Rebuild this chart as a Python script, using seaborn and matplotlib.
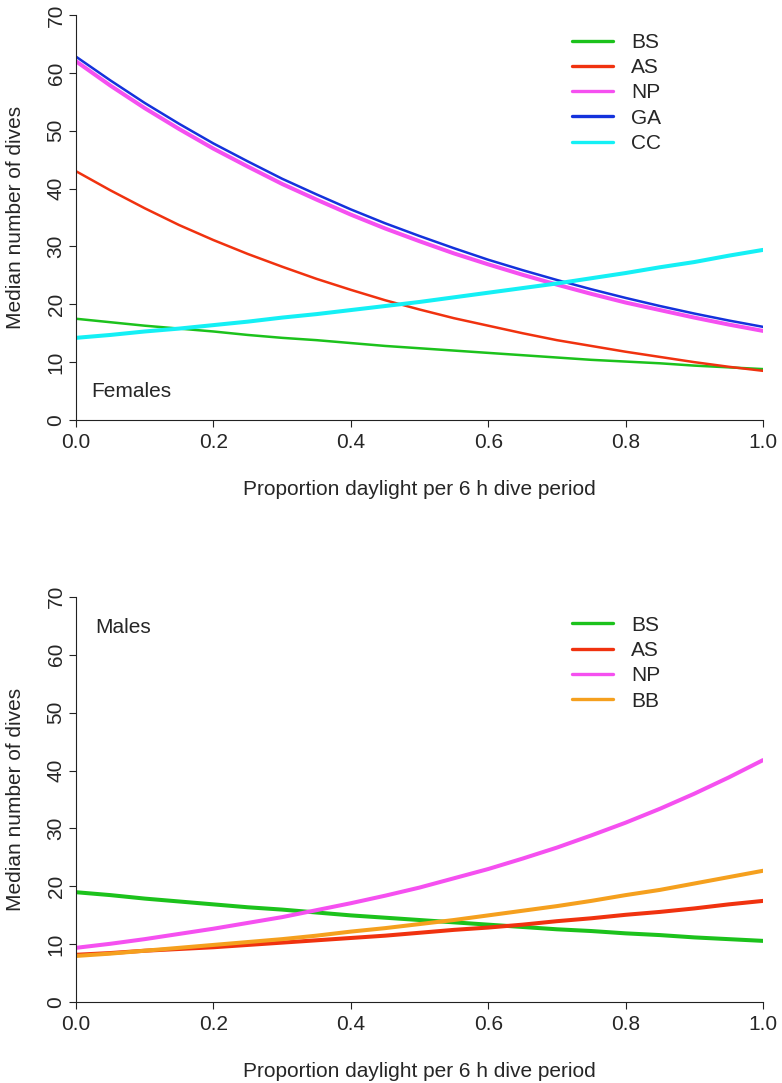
import numpy as np
import pandas as pd
import matplotlib
matplotlib.use("Agg")
import matplotlib.pyplot as plt
import seaborn as sns

# ---- data ----
daylight = [0.00, 0.05, 0.10, 0.15, 0.20, 0.25, 0.30, 0.35, 0.40, 0.45, 0.50,
            0.55, 0.60, 0.65, 0.70, 0.75, 0.80, 0.85, 0.90, 0.95, 1.00]

fem_groups = ["BS", "AS", "NP", "GA", "CC"]
fem_BS = [17.5, 16.9, 16.3, 15.8, 15.3, 14.7, 14.2, 13.8, 13.3, 12.8, 12.4,
          12.0, 11.6, 11.2, 10.8, 10.4, 10.1, 9.8, 9.4, 9.1, 8.8]
fem_AS = [43.0, 39.7, 36.6, 33.7, 31.1, 28.7, 26.5, 24.4, 22.5, 20.7, 19.1,
          17.6, 16.3, 15.0, 13.8, 12.8, 11.8, 10.9, 10.0, 9.2, 8.5]
fem_NP = [62.0, 57.8, 53.9, 50.3, 46.9, 43.8, 40.8, 38.1, 35.5, 33.1, 30.9,
          28.8, 26.9, 25.1, 23.4, 21.8, 20.3, 19.0, 17.7, 16.5, 15.4]
fem_GA = [62.8, 58.7, 54.8, 51.2, 47.8, 44.7, 41.7, 39.0, 36.4, 34.0, 31.8,
          29.7, 27.7, 25.9, 24.2, 22.6, 21.1, 19.7, 18.4, 17.2, 16.1]
fem_CC = [14.2, 14.7, 15.3, 15.8, 16.4, 17.0, 17.7, 18.3, 19.0, 19.7, 20.4,
          21.2, 22.0, 22.8, 23.6, 24.5, 25.4, 26.4, 27.3, 28.4, 29.4]

male_groups = ["BS", "AS", "NP", "BB"]
male_BS = [19.0, 18.5, 17.9, 17.4, 16.9, 16.4, 16.0, 15.5, 15.0, 14.6, 14.2,
           13.8, 13.4, 13.0, 12.6, 12.3, 11.9, 11.6, 11.2, 10.9, 10.6]
male_AS = [8.2, 8.5, 8.9, 9.2, 9.5, 9.9, 10.3, 10.7, 11.1, 11.5, 12.0,
           12.5, 12.9, 13.4, 14.0, 14.5, 15.1, 15.6, 16.2, 16.9, 17.5]
male_NP = [9.4, 10.1, 10.9, 11.8, 12.7, 13.7, 14.7, 15.9, 17.1, 18.4, 19.8,
           21.4, 23.0, 24.8, 26.7, 28.8, 31.0, 33.4, 36.0, 38.8, 41.8]
male_BB = [8.0, 8.4, 8.9, 9.4, 9.9, 10.4, 10.9, 11.5, 12.2, 12.8, 13.5,
           14.2, 15.0, 15.8, 16.6, 17.5, 18.5, 19.4, 20.5, 21.6, 22.7]

x_ticks = [0.0, 0.2, 0.4, 0.6, 0.8, 1.0]
y_ticks = [0, 10, 20, 30, 40, 50, 60, 70]
xlabel = "Proportion daylight per 6 h dive period"
ylabel = "Median number of dives"

colors = {"BS": "#1CC21C", "AS": "#F0320F", "NP": "#F550F0",
          "GA": "#1432DC", "CC": "#14F0F5", "BB": "#F5A01E"}


def long_df(groups, series):
    rows = []
    for g, vals in zip(groups, series):
        for xv, yv in zip(daylight, vals):
            rows.append({"x": xv, "y": yv, "group": g})
    return pd.DataFrame(rows)


df_f = long_df(fem_groups, [fem_BS, fem_AS, fem_NP, fem_GA, fem_CC])
df_m = long_df(male_groups, [male_BS, male_AS, male_NP, male_BB])

sns.set_style("ticks")
plt.rcParams["font.family"] = ["Liberation Sans", "DejaVu Sans"]
FS = 15

fig = plt.figure(figsize=(7.82, 10.83), dpi=100)
ax1 = fig.add_axes([76 / 782, 1 - 420 / 1083, 687 / 782, 405 / 1083])
ax2 = fig.add_axes([76 / 782, 1 - 1002.3 / 1083, 687 / 782, 405.6 / 1083])

sns.lineplot(data=df_f, x="x", y="y", hue="group", size="group",
             hue_order=fem_groups, size_order=fem_groups, palette=colors,
             sizes={"BS": 1.8, "AS": 1.8, "NP": 2.9, "GA": 1.8, "CC": 2.9},
             ax=ax1)
sns.lineplot(data=df_m, x="x", y="y", hue="group", size="group",
             hue_order=male_groups, size_order=male_groups, palette=colors,
             sizes={"BS": 2.9, "AS": 2.9, "NP": 2.9, "BB": 2.9},
             ax=ax2)

for ax, tag, tagpos, legy in [(ax1, "Females", (0.022, 0.07), 0.956),
                              (ax2, "Males", (0.028, 0.925), 0.953)]:
    ax.set_xlim(0, 1)
    ax.set_ylim(0, 70)
    ax.set_xticks(x_ticks)
    ax.set_xticklabels([f"{t:.1f}" for t in x_ticks])
    ax.set_yticks(y_ticks)
    ax.set_yticklabels([str(t) for t in y_ticks])
    ax.tick_params(axis="both", direction="out", length=5, width=0.8,
                   labelsize=FS, color="#222222")
    ax.tick_params(axis="x", pad=4.5)
    ax.tick_params(axis="y", labelrotation=90, pad=2.5)
    for lab in ax.get_yticklabels():
        lab.set_va("center")
    for s in ["top", "right"]:
        ax.spines[s].set_visible(False)
    for s in ["left", "bottom"]:
        ax.spines[s].set_linewidth(0.8)
        ax.spines[s].set_color("#222222")
    ax.set_xlabel(xlabel, fontsize=FS, labelpad=20)
    ax.set_ylabel(ylabel, fontsize=FS, labelpad=15.5)
    ax.text(tagpos[0], tagpos[1], tag, transform=ax.transAxes,
            fontsize=FS, ha="left", va="center")
    handles, labels = ax.get_legend_handles_labels()
    leg = ax.legend(handles, labels, loc="upper left",
                    bbox_to_anchor=(0.722, legy), frameon=False,
                    fontsize=FS, handlelength=1.97, handletextpad=0.85,
                    labelspacing=0.3, borderpad=0, borderaxespad=0)
    for h in leg.get_lines():
        h.set_linewidth(2.4)
        h.set_solid_capstyle("round")

fig.savefig("out.png", dpi=100)
